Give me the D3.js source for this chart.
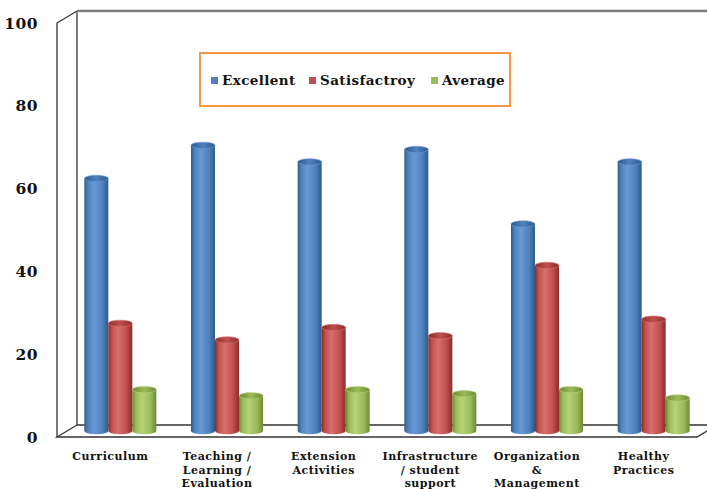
<!DOCTYPE html>
<html><head><meta charset="utf-8">
<script src="https://cdn.jsdelivr.net/npm/d3@7"></script>
<style>body{margin:0;background:#fff}svg{display:block}</style>
</head><body><svg id="c" width="707" height="489"></svg>
<script>
const categories = [["Curriculum"],["Teaching /","Learning /","Evaluation"],["Extension","Activities"],["Infrastructure","/ student","support"],["Organization","&","Management"],["Healthy","Practices"]];
const seriesNames = ["Excellent","Satisfactroy","Average"];
const excellent = [61, 69, 65, 68, 50, 65];
const satisfactory = [26, 22, 25, 23, 40, 27];
const average = [10, 8.5, 10, 9, 10, 8];
const yTicks = [0,20,40,60,80,100];
const colors = ["#4F81BD","#C0504D","#9BBB59"];
const darks = ["#2E5A8C","#8C2C2A","#6E8A35"];
const lights = ["#6A9AD6","#D8706D","#B5D27A"];

const svg = d3.select("#c");
const W=707;
const dx=20, dy=-12;
const x = d3.scaleBand().domain(d3.range(categories.length)).range([57,697]);
const y = d3.scaleLinear().domain([0,100]).range([437,23]);
const inner = d3.scaleBand().domain(d3.range(3)).range([0,72]);
const data = [excellent, satisfactory, average];

const defs = svg.append("defs");
colors.forEach((c,i)=>{
  const g = defs.append("linearGradient").attr("id","g"+i).attr("x1","0").attr("x2","1").attr("y1","0").attr("y2","0");
  g.append("stop").attr("offset","0").attr("stop-color",darks[i]);
  g.append("stop").attr("offset","0.15").attr("stop-color",c);
  g.append("stop").attr("offset","0.4").attr("stop-color",lights[i]);
  g.append("stop").attr("offset","0.75").attr("stop-color",c);
  g.append("stop").attr("offset","1").attr("stop-color",darks[i]);
  const t = defs.append("linearGradient").attr("id","t"+i).attr("x1","0").attr("x2","1").attr("y1","0").attr("y2","0");
  t.append("stop").attr("offset","0").attr("stop-color",darks[i]);
  t.append("stop").attr("offset","0.5").attr("stop-color",c);
  t.append("stop").attr("offset","1").attr("stop-color",darks[i]);
});
const tg = defs.append("linearGradient").attr("id","topline").attr("x1","0").attr("x2","0").attr("y1","0").attr("y2","1");
tg.append("stop").attr("offset","0").attr("stop-color","#bbb");
tg.append("stop").attr("offset","0.5").attr("stop-color","#555");
tg.append("stop").attr("offset","1").attr("stop-color","#ccc");

const x0=x.range()[0], x1=x.range()[1];
const frame = svg.append("g").attr("fill","none").attr("stroke","#333").attr("stroke-width",1.3);
frame.append("path").attr("d",`M${x0+dx},${y(0)+dy}V${y(100)+dy}`);
svg.append("rect").attr("x",x0+dx).attr("y",y(100)+dy-1.5).attr("width",W).attr("height",3).attr("fill","url(#topline)");
frame.append("path").attr("d",`M${x0+dx},${y(0)+dy}H${W}`);
frame.append("path").attr("d",`M${x0},${y(0)}V${y(100)}L${x0+dx},${y(100)+dy}`);
frame.append("path").attr("d",`M${x0+dx},${y(0)+dy}L${x0},${y(0)}H${x1}L${x1+dx},${y(0)+dy}`);

const hx=dx/2, hy=dy/2;
categories.forEach((cat,ci)=>{
  data.forEach((vals,si)=>{
    const bx = x(ci)+x.bandwidth()/2-36+inner(si)+hx;
    const w = inner.bandwidth();
    const yb = y(0)+hy, yt = y(vals[ci])+hy;
    const ry=3.2, rx=w/2;
    const g = svg.append("g");
    g.append("path")
      .attr("d",`M${bx},${yt}V${yb}A${rx},${ry} 0 0 0 ${bx+w},${yb}V${yt}Z`)
      .attr("fill",`url(#g${si})`);
    g.append("ellipse").attr("cx",bx+rx).attr("cy",yt).attr("rx",rx).attr("ry",ry)
      .attr("fill",`url(#t${si})`).attr("stroke",lights[si]).attr("stroke-width",0.6);
  });
});

svg.append("g").selectAll("text").data(yTicks).join("text")
  .attr("x",38).attr("y",d=>y(d)+5.5).attr("text-anchor","end")
  .attr("font-family","DejaVu Serif").attr("font-weight","bold").attr("font-size",15.5).attr("fill","#111")
  .attr("letter-spacing",0.5)
  .text(d=>d);

categories.forEach((lines,ci)=>{
  const t = svg.append("text").attr("text-anchor","middle")
    .attr("font-family","DejaVu Serif").attr("font-weight","bold").attr("font-size",11).attr("fill","#111")
    .attr("letter-spacing",0.5);
  lines.forEach((l,li)=>{
    t.append("tspan").attr("x",x(ci)+x.bandwidth()/2).attr("y",460+li*13.5).text(l);
  });
});

svg.append("rect").attr("x",200).attr("y",53).attr("width",310).attr("height",53)
  .attr("fill","#fff").attr("stroke","#F79646").attr("stroke-width",2);
const legX=[211,309,431];
seriesNames.forEach((n,i)=>{
  svg.append("rect").attr("x",legX[i]).attr("y",77).attr("width",7).attr("height",7).attr("fill",colors[i]);
  svg.append("text").attr("x",legX[i]+11).attr("y",85)
    .attr("font-family","DejaVu Serif").attr("font-weight","bold").attr("font-size",13.5).attr("fill","#111")
    .attr("letter-spacing",0.4).text(n);
});
</script></body></html>
